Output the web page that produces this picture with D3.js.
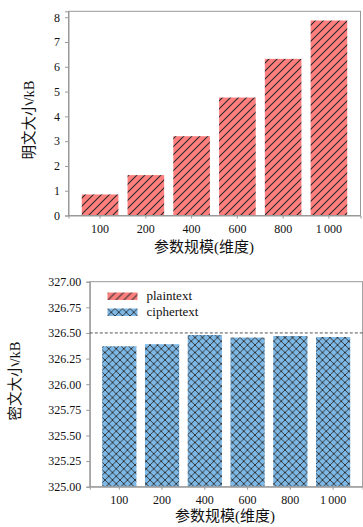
<!DOCTYPE html>
<html>
<head>
<meta charset="utf-8">
<script src="https://cdn.jsdelivr.net/npm/d3@7"></script>
<style>
  html, body { margin: 0; padding: 0; background: #fff; }
  svg { display: block; }
  svg text { font-family: "Liberation Serif", "Times New Roman", "DejaVu Serif", "Noto Sans CJK SC", serif !important; fill: #111; }
</style>
</head>
<body>
<svg id="chart" width="363" height="527"></svg>
<script>
// ---- data ----
const categories = ["100", "200", "400", "600", "800", "1\u2009000"];
const plainValues = [0.85, 1.63, 3.20, 4.76, 6.32, 7.87];
const cipherValues = [326.37, 326.39, 326.48, 326.455, 326.47, 326.46];
const plainTicks = [0, 1, 2, 3, 4, 5, 6, 7, 8];
const cipherTicks = [325.00, 325.25, 325.50, 325.75, 326.00, 326.25, 326.50, 326.75, 327.00];
const cipherRef = 326.5;
const legendLabels = ["plaintext", "ciphertext"];
const xTitle = "参数规模(维度)";
const yTitleTop = "明文大小/kB";
const yTitleBottom = "密文大小/kB";

const svg = d3.select("#chart");
const redFill = "#ff7f7f", blueFill = "#7db8e6";
const hatchColor = "#2a2a2a";
const spineColor = "#999";

// ---- patterns ----
const defs = svg.append("defs");
function diagPattern(id, fill, s) {
  const p = defs.append("pattern").attr("id", id).attr("patternUnits", "userSpaceOnUse")
    .attr("width", s).attr("height", s);
  p.append("rect").attr("width", s).attr("height", s).attr("fill", fill);
  p.append("path").attr("d", `M-1,${s + 1} L${s + 1},-1 M-1,1 L1,-1 M${s - 1},${s + 1} L${s + 1},${s - 1}`)
    .attr("stroke", hatchColor).attr("stroke-width", 1.1).attr("fill", "none");
}
function crossPattern(id, fill, s) {
  const p = defs.append("pattern").attr("id", id).attr("patternUnits", "userSpaceOnUse")
    .attr("width", s).attr("height", s);
  p.append("rect").attr("width", s).attr("height", s).attr("fill", fill);
  p.append("path").attr("d",
    `M-1,${s + 1} L${s + 1},-1 M-1,1 L1,-1 M${s - 1},${s + 1} L${s + 1},${s - 1} ` +
    `M-1,-1 L${s + 1},${s + 1} M-1,${s - 1} L1,${s + 1} M${s - 1},-1 L${s + 1},1`)
    .attr("stroke", hatchColor).attr("stroke-width", 0.9).attr("fill", "none");
}
diagPattern("hatchRed", redFill, 8);
crossPattern("hatchBlue", blueFill, 7.5);

function panel(opts) {
  const { left, right, top, bottom, values, yDomain, ticks, fmt, fill, titleX, titleY, yTitle, yTitleX, yTitleY } = opts;
  const g = svg.append("g");
  const x = d3.scaleBand().domain(categories).range([left, right])
    .paddingInner(0.2).paddingOuter(0.29);
  const y = d3.scaleLinear().domain(yDomain).range([bottom, top]);

  // bars
  g.selectAll("rect.bar").data(values).enter().append("rect")
    .attr("class", "bar")
    .attr("x", (d, i) => x(categories[i]))
    .attr("width", x.bandwidth())
    .attr("y", d => y(d))
    .attr("height", d => y(yDomain[0]) - y(d))
    .attr("fill", fill);

  // frame
  g.append("rect").attr("x", left).attr("y", top).attr("width", right - left).attr("height", bottom - top)
    .attr("fill", "none").attr("stroke", spineColor).attr("stroke-width", 1);

  // y axis
  const ya = g.append("g").attr("transform", `translate(${left},0)`)
    .call(d3.axisLeft(y).tickValues(ticks).tickFormat(fmt).tickSizeOuter(0).tickSize(3.5).tickPadding(5));
  ya.attr("font-family", null);
  ya.select(".domain").attr("stroke", spineColor);
  ya.selectAll(".tick line").attr("stroke", spineColor);
  ya.selectAll("text").attr("font-size", 12).attr("fill", "#111");

  // x axis
  const xa = g.append("g").attr("transform", `translate(0,${bottom})`)
    .call(d3.axisBottom(x).tickSizeOuter(0).tickSize(3).tickPadding(6));
  xa.attr("font-family", null);
  xa.select(".domain").attr("stroke", spineColor);
  xa.selectAll(".tick line").attr("stroke", spineColor);
  xa.selectAll("text").attr("font-size", 12).attr("fill", "#111");

  // titles
  g.append("text").attr("x", titleX).attr("y", titleY).attr("text-anchor", "middle")
    .attr("font-size", 15).text(xTitle);
  g.append("text").attr("transform", `translate(${yTitleX},${yTitleY}) rotate(-90)`)
    .attr("text-anchor", "middle").attr("font-size", 14.5).text(yTitle);
  return { g, x, y };
}

// top panel
panel({
  left: 68.5, right: 360.5, top: 11.3, bottom: 215.5,
  values: plainValues, yDomain: [0, 8.24], ticks: plainTicks, fmt: d3.format("d"),
  fill: "url(#hatchRed)", titleX: 204, titleY: 252,
  yTitle: yTitleTop, yTitleX: 34, yTitleY: 120
});

// bottom panel
const bp = panel({
  left: 89.8, right: 362.6, top: 281.7, bottom: 486.7,
  values: cipherValues, yDomain: [325, 327], ticks: cipherTicks, fmt: d3.format(".2f"),
  fill: "url(#hatchBlue)", titleX: 225, titleY: 521,
  yTitle: yTitleBottom, yTitleX: 20, yTitleY: 381
});

// reference dashed line
bp.g.append("line").attr("x1", 89.8).attr("x2", 362.6)
  .attr("y1", bp.y(cipherRef)).attr("y2", bp.y(cipherRef))
  .attr("stroke", "#555").attr("stroke-width", 1).attr("stroke-dasharray", "3,2");

// legend
const legend = bp.g.append("g").attr("transform", "translate(107.5,292.5)");
const legFills = ["url(#hatchRed)", "url(#hatchBlue)"];
legendLabels.forEach((lab, i) => {
  const row = legend.append("g").attr("transform", `translate(0,${i * 16})`);
  row.append("rect").attr("width", 30).attr("height", 7.5).attr("fill", legFills[i]);
  row.append("text").attr("x", 39).attr("y", 7).attr("font-size", 13).text(lab);
});
</script>
</body>
</html>
